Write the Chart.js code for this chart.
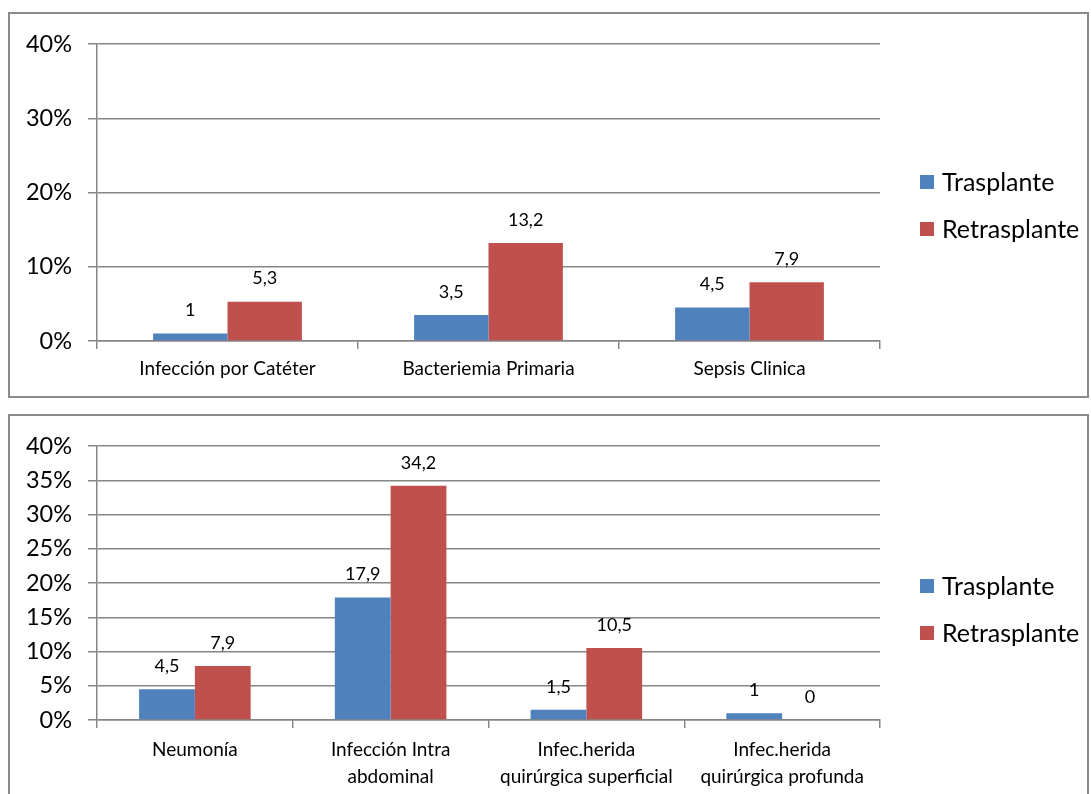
<!DOCTYPE html>
<html>
<head>
<meta charset="utf-8">
<script src="https://cdn.jsdelivr.net/npm/chart.js@4/dist/chart.umd.min.js"></script>
<style>
  body { margin: 0; background: #fff; width: 1091px; height: 794px; overflow: hidden; position: relative; }
  .box { position: absolute; left: 8px; border: 2px solid #8a8a8a; background: #fff; }
  #box1 { top: 12px; width: 1077px; height: 382px; }
  #box2 { top: 414px; width: 1077px; height: 386px; }
  canvas { display: block; }
</style>
</head>
<body>
<div class="box" id="box1"><canvas id="chartTop" width="1077" height="382"></canvas></div>
<div class="box" id="box2"><canvas id="chartBottom" width="1077" height="386"></canvas></div>
<script>
// Infection rates (%) by type, two panels
const seriesNames = ['Trasplante', 'Retrasplante'];

const topCategories = ['Infección por Catéter', 'Bacteriemia Primaria', 'Sepsis Clinica'];
const topTrasplante = [1, 3.5, 4.5];
const topRetrasplante = [5.3, 13.2, 7.9];
const topTicks = [0, 10, 20, 30, 40];

const bottomCategories = ['Neumonía', ['Infección Intra', 'abdominal'], ['Infec.herida', 'quirúrgica superficial'], ['Infec.herida', 'quirúrgica profunda']];
const bottomTrasplante = [4.5, 17.9, 1.5, 1];
const bottomRetrasplante = [7.9, 34.2, 10.5, 0];
const bottomTicks = [0, 5, 10, 15, 20, 25, 30, 35, 40];

const colors = {
    blue: '#4F81BD',
    red: '#C0504D',
    grid: '#868686',
    text: '#000000'
};
const fontFamily = 'Lato, "Open Sans", sans-serif';

// value labels above each bar, decimal comma
const barLabels = {
    id: 'barLabels',
    afterDatasetsDraw(chart) {
        const ctx = chart.ctx;
        ctx.save();
        ctx.font = '18px ' + fontFamily;
        ctx.fillStyle = colors.text;
        ctx.textAlign = 'center';
        ctx.textBaseline = 'middle';
        chart.data.datasets.forEach((ds, i) => {
            chart.getDatasetMeta(i).data.forEach((bar, j) => {
                const txt = String(ds.data[j]).replace('.', ',');
                ctx.fillText(txt, bar.x, bar.y - 23);
            });
        });
        ctx.restore();
    }
};

// legend at the right, centred on the canvas height
const sideLegend = {
    id: 'sideLegend',
    afterDraw(chart) {
        const ctx = chart.ctx;
        const x = chart.chartArea.right + 40;
        const mid = chart.height / 2;
        ctx.save();
        ctx.font = '25px ' + fontFamily;
        ctx.textBaseline = 'middle';
        chart.data.datasets.forEach((ds, i) => {
            const y = mid - 23 + i * 47;
            ctx.fillStyle = ds.backgroundColor;
            ctx.fillRect(x, y - 7, 14, 14);
            ctx.fillStyle = colors.text;
            ctx.fillText(ds.label, x + 22, y + 1);
        });
        ctx.restore();
    }
};

function makeChart(id, labels, a, b, ticks, stepSize, padTop, xHeight, labelPad) {
    return new Chart(document.getElementById(id), {
        type: 'bar',
        data: {
            labels: labels,
            datasets: [
                { label: seriesNames[0], data: a, backgroundColor: colors.blue },
                { label: seriesNames[1], data: b, backgroundColor: colors.red }
            ]
        },
        options: {
            responsive: false,
            animation: false,
            categoryPercentage: 0.57,
            barPercentage: 1,
            layout: { padding: { top: padTop, right: 207, left: 0, bottom: 0 } },
            plugins: {
                legend: { display: false },
                tooltip: { enabled: false }
            },
            scales: {
                x: {
                    grid: {
                        offset: true,
                        drawOnChartArea: false,
                        tickLength: 8,
                        color: colors.grid,
                        lineWidth: 1.5
                    },
                    border: { color: colors.grid, width: 1.5 },
                    ticks: {
                        color: colors.text,
                        padding: labelPad,
                        maxRotation: 0,
                        autoSkip: false,
                        font: { family: fontFamily, size: 19, lineHeight: 1.42 }
                    },
                    afterFit: function(scale) { scale.height = xHeight; }
                },
                y: {
                    min: ticks[0],
                    max: ticks[ticks.length - 1],
                    grid: { color: colors.grid, tickLength: 9, lineWidth: 1.5 },
                    border: { color: colors.grid, width: 1.5 },
                    ticks: {
                        stepSize: stepSize,
                        color: colors.text,
                        padding: 16,
                        font: { family: fontFamily, size: 23.5 },
                        callback: function(value) { return value + '%'; }
                    },
                    afterFit: function(scale) { scale.width = 87; }
                }
            }
        },
        plugins: [barLabels, sideLegend]
    });
}

makeChart('chartTop', topCategories, topTrasplante, topRetrasplante, topTicks, 10, 29, 55, 6);
makeChart('chartBottom', bottomCategories, bottomTrasplante, bottomRetrasplante, bottomTicks, 5, 28, 82, 8);
</script>
</body>
</html>
